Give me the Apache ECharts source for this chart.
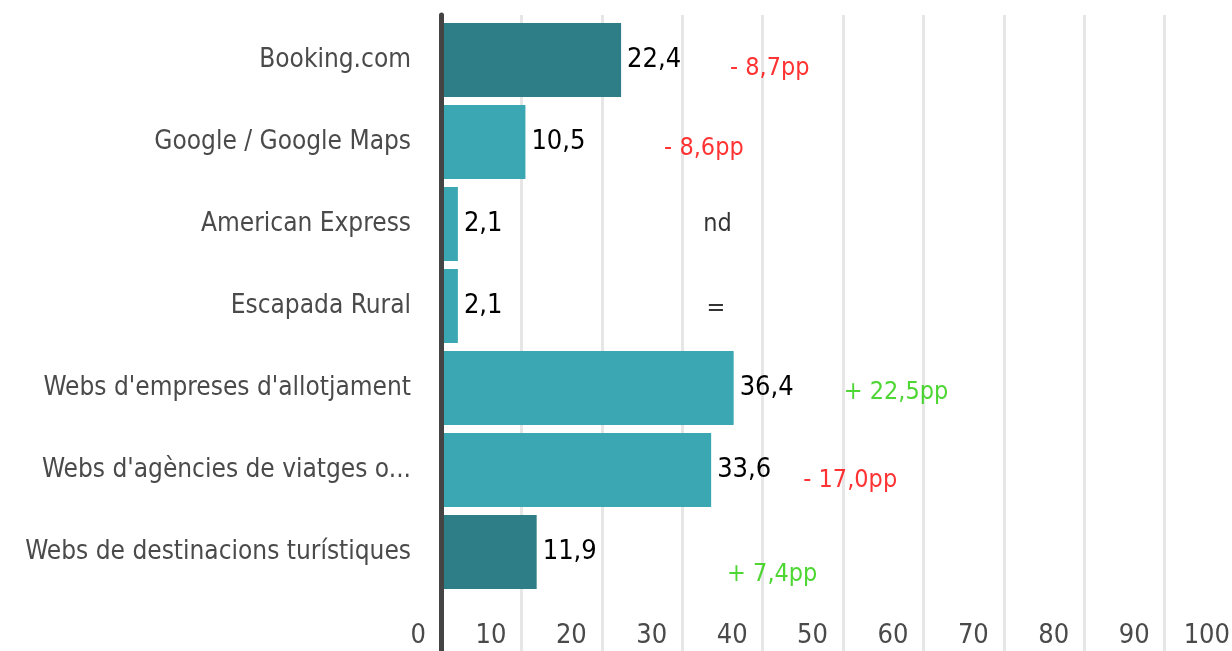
<!DOCTYPE html>
<html>
<head>
<meta charset="utf-8">
<script src="https://cdn.jsdelivr.net/npm/echarts@6/dist/echarts.min.js"></script>
<style>html,body{margin:0;padding:0;background:#fff}#c{width:1232px;height:651px}</style>
</head>
<body>
<div id="c"></div>
<script>
const categories = ["Booking.com","Google / Google Maps","American Express","Escapada Rural","Webs d'empreses d'allotjament","Webs d'agències de viatges o...","Webs de destinacions turístiques"];
const values = [22.4, 10.5, 2.1, 2.1, 36.4, 33.6, 11.9];
const highlight = [true, false, false, false, false, false, true];
const changeText = ["- 8,7pp", "- 8,6pp", "nd", "=", "+ 22,5pp", "- 17,0pp", "+ 7,4pp"];
const changePos = [40.9, 32.7, 34.4, 34.2, 56.6, 50.9, 41.2];
const changeColor = ["#ff0000", "#ff0000", "#000000", "#000000", "#22cc00", "#ff0000", "#22cc00"];
const changeDy = [8, 6, 0, 2, 4, 10, 22];
const xTicks = [0,10,20,30,40,50,60,70,80,90,100];

const FONT = "'Liberation Sans Narrow','DejaVu Sans Condensed',sans-serif";
const chart = echarts.init(document.getElementById('c'));
const fmt = v => v.toFixed(1).replace('.', ',');

chart.setOption({
  animation: false,
  grid: [
    {left: 441, right: -13, top: 15, bottom: 0, outerBoundsMode: 'none', containLabel: false},
    {left: 441, right: -13, top: 19, bottom: 58, outerBoundsMode: 'none', containLabel: false}
  ],
  xAxis: [
    {gridIndex: 0, type: 'value', min: 0, max: 100, interval: 10,
     axisLine: {show: false}, axisTick: {show: false},
     splitLine: {show: true, lineStyle: {color: '#e6e6e6', width: 3}},
     axisLabel: {inside: true, margin: 2, align: 'right', padding: [0, 15, 0, 0],
       color: '#4a4a4a', fontFamily: FONT, fontSize: 27, verticalAlign: 'bottom',
       formatter: v => xTicks.includes(v) ? String(v) : ''}},
    {gridIndex: 1, type: 'value', min: 0, max: 100, show: false}
  ],
  yAxis: [
    {gridIndex: 0, type: 'category', data: [''], axisTick: {show: false}, axisLabel: {show: false},
     axisLine: {show: true, lineStyle: {color: '#444444', width: 5}}, z: 10},
    {gridIndex: 1, type: 'category', data: categories, inverse: true,
     axisLine: {show: false}, axisTick: {show: false},
     axisLabel: {color: '#4a4a4a', fontFamily: FONT, fontSize: 26, margin: 30}}
  ],
  series: [
    {type: 'bar', xAxisIndex: 1, yAxisIndex: 1, barCategoryGap: '10%',
     data: values.map((v, i) => ({value: v, itemStyle: {color: highlight[i] ? '#2e7e88' : '#3ba7b3'}})),
     label: {show: true, position: 'right', distance: 6, color: '#000', fontFamily: FONT, fontSize: 27,
       formatter: p => fmt(p.value)}},
    {type: 'scatter', xAxisIndex: 1, yAxisIndex: 1, symbolSize: 0, silent: true,
     data: changePos.map((x, i) => ({value: [x, i],
       label: {show: true, position: 'inside', formatter: changeText[i], color: changeColor[i],
         fontFamily: FONT, fontSize: 25, offset: [0, changeDy[i]]}}))}
  ]
});
</script>
</body>
</html>
